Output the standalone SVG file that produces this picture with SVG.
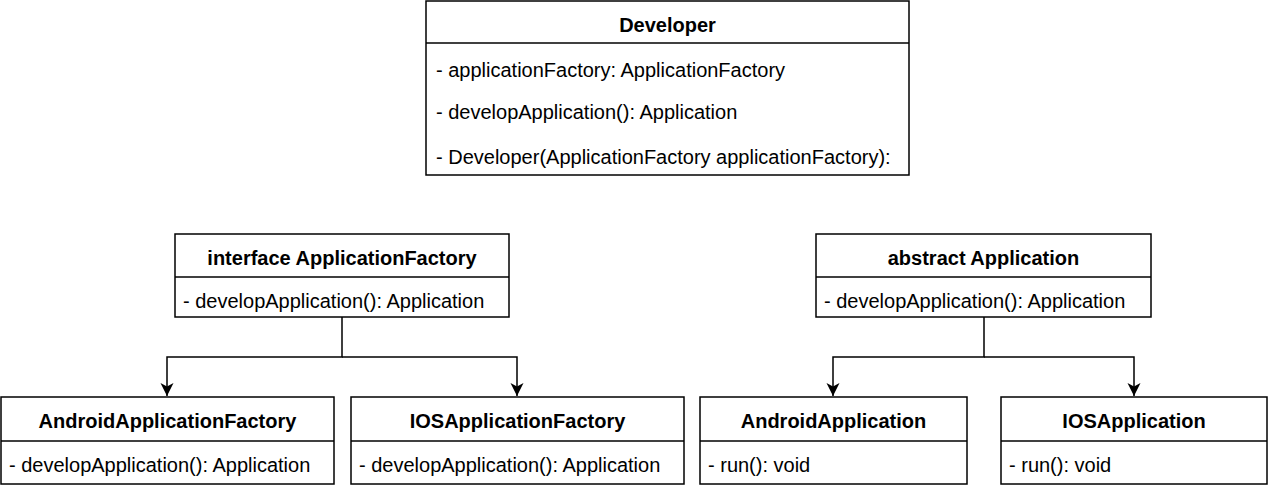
<svg xmlns="http://www.w3.org/2000/svg" width="1278" height="500" viewBox="0 0 1278 500">
<style>
.box{fill:#fff;stroke:#000;stroke-width:1.5}
.sep{stroke:#000;stroke-width:1.5}
.t{font-family:"Liberation Sans",Arial,sans-serif;font-size:20px;fill:#000}
.h{font-family:"Liberation Sans",Arial,sans-serif;font-size:20px;font-weight:bold;fill:#000;text-anchor:middle}
.c{fill:none;stroke:#000;stroke-width:1.5}
</style>
<defs>
<marker id="arr" markerWidth="14" markerHeight="14" refX="13" refY="7" orient="auto" markerUnits="userSpaceOnUse">
<path d="M13,7 L0,0.5 L3.5,7 L0,13.5 Z" fill="#000"/>
</marker>
</defs>
<rect width="1278" height="500" fill="#fff"/>
<g id="connectors">
<path class="c" d="M342,317 V357 H167 V396" marker-end="url(#arr)"/>
<path class="c" d="M342,357 H517 V396" marker-end="url(#arr)"/>
<path class="c" d="M984,317 V357 H833 V396" marker-end="url(#arr)"/>
<path class="c" d="M984,357 H1134 V396" marker-end="url(#arr)"/>
</g>
<g id="developer">
<rect class="box" x="426" y="1" width="483" height="174"/>
<line class="sep" x1="426" y1="43" x2="909" y2="43"/>
<text class="h" x="667.5" y="32">Developer</text>
<text class="t" x="436" y="77">- applicationFactory: ApplicationFactory</text>
<text class="t" x="436" y="119">- developApplication(): Application</text>
<text class="t" x="436" y="164">- Developer(ApplicationFactory applicationFactory):</text>
</g>
<g id="applicationFactory">
<rect class="box" x="175" y="234" width="334" height="83"/>
<line class="sep" x1="175" y1="277" x2="509" y2="277"/>
<text class="h" x="342" y="265">interface ApplicationFactory</text>
<text class="t" x="183" y="308">- developApplication(): Application</text>
</g>
<g id="application">
<rect class="box" x="816" y="234" width="335" height="83"/>
<line class="sep" x1="816" y1="277" x2="1151" y2="277"/>
<text class="h" x="983.5" y="265">abstract Application</text>
<text class="t" x="824" y="308">- developApplication(): Application</text>
</g>
<g id="androidApplicationFactory">
<rect class="box" x="1" y="397" width="333" height="87"/>
<line class="sep" x1="1" y1="441" x2="334" y2="441"/>
<text class="h" x="167.5" y="428">AndroidApplicationFactory</text>
<text class="t" x="9" y="472">- developApplication(): Application</text>
</g>
<g id="iosApplicationFactory">
<rect class="box" x="351" y="397" width="333" height="87"/>
<line class="sep" x1="351" y1="441" x2="684" y2="441"/>
<text class="h" x="517.5" y="428">IOSApplicationFactory</text>
<text class="t" x="359" y="472">- developApplication(): Application</text>
</g>
<g id="androidApplication">
<rect class="box" x="700" y="397" width="267" height="87"/>
<line class="sep" x1="700" y1="441" x2="967" y2="441"/>
<text class="h" x="833.5" y="428">AndroidApplication</text>
<text class="t" x="708" y="472">- run(): void</text>
</g>
<g id="iosApplication">
<rect class="box" x="1001" y="397" width="266" height="87"/>
<line class="sep" x1="1001" y1="441" x2="1267" y2="441"/>
<text class="h" x="1134" y="428">IOSApplication</text>
<text class="t" x="1009" y="472">- run(): void</text>
</g>
</svg>
